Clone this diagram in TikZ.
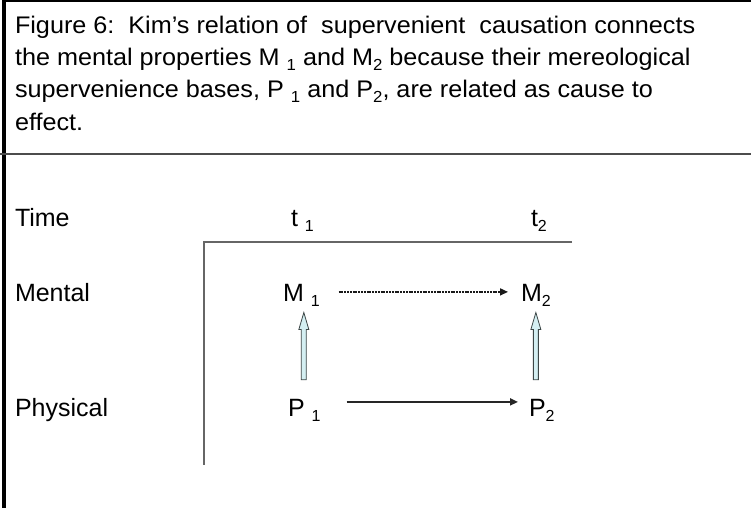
\documentclass[tikz,border=0pt]{standalone}
\usepackage{fontspec}
\setmainfont{Liberation Sans}
\newfontfamily\capfont[FakeStretch=1.05]{Liberation Sans}
\usetikzlibrary{calc,arrows.meta}
\definecolor{arrowfill}{HTML}{D4EFF2}
\definecolor{arrowedge}{HTML}{3C4646}
\definecolor{axisgray}{HTML}{666666}
\newcommand\lsub[1]{\raisebox{-0.2em}{\fontsize{16}{16}\selectfont #1}}
\newcommand\hollowup[2]{%
  \draw[upstyle] ($(#1)+(-2.5,0)$) -- ($(#2)+(-2.5,17)$) -- ($(#2)+(-5,17)$) -- (#2)
    -- ($(#2)+(5,17)$) -- ($(#2)+(2.5,17)$) -- ($(#1)+(2.5,0)$) -- cycle;}
\begin{document}
\begin{tikzpicture}[x=1pt,y=-1pt,
  captext/.style={anchor=base west, inner sep=0pt, outer sep=0pt, font=\capfont\fontsize{24}{32}\selectfont},
  lbl/.style={anchor=base west, inner sep=0pt, outer sep=0pt, font=\fontsize{25}{30}\selectfont},
  axisline/.style={draw=axisgray, line width=1.2pt},
  dotarrow/.style={draw=black!90, line width=1.6pt, dash pattern=on 2pt off 0.8pt, -{Triangle[length=8pt,width=7pt]}},
  solidarrow/.style={draw=black!85, line width=1.8pt, -{Triangle[length=8pt,width=7pt]}},
  upstyle/.style={draw=arrowedge, fill=arrowfill, line width=0.8pt, line join=miter}]
\useasboundingbox (0,0) rectangle (751,508);
% frame
\fill[black] (2,0) rectangle (6,508);
\fill[black] (2,0) rectangle (751,2.5);
\draw[line width=2pt, black!70] (0,154) -- (751,154);
% caption
\node[captext] (c1) at (15,34) {Figure 6:\ \ Kim’s relation of\ \ supervenient\ \ causation connects};
\node[captext] (c2) at (15,66) {the mental properties M \lsub{1} and M\lsub{2} because their mereological};
\node[captext] (c3) at (15,98) {supervenience bases, P \lsub{1} and P\lsub{2}, are related as cause to};
\node[captext] (c4) at (15,130) {effect.};
% row labels
\node[lbl] (time) at (15,226) {Time};
\node[lbl] (mental) at (15,301) {Mental};
\node[lbl] (phys) at (15,416) {Physical};
% column labels
\node[lbl] (t1) at (291,226) {t \lsub{1}};
\node[lbl] (t2) at (531,226) {t\lsub{2}};
% axes
\coordinate (corner) at (204,242);
\coordinate (axend) at (572,242);
\coordinate (axbot) at (204,465);
\draw[axisline] (axend) -- (corner) -- (axbot);
% property nodes
\node[lbl] (M1) at (283,301) {M \lsub{1}};
\node[lbl] (M2) at (521,301) {M\lsub{2}};
\node[lbl] (P1) at (288,416) {P \lsub{1}};
\node[lbl] (P2) at (529,416) {P\lsub{2}};
% causal arrows
\draw[dotarrow] ([xshift=19pt,yshift=3pt]M1.east) -- ([xshift=-13pt,yshift=3pt]M2.west);
\draw[solidarrow] ([xshift=26pt,yshift=8pt]P1.east) -- ([xshift=-11pt,yshift=8pt]P2.west);
% supervenience arrows
\coordinate (a1t) at ($(M1.south)+(2.5,6.5)$);
\coordinate (a1b) at ($(M1.south |- P1.north)+(2.5,-19)$);
\coordinate (a2t) at ($(M2.south)+(0,6.5)$);
\coordinate (a2b) at ($(M2.south |- P2.north)+(0,-19)$);
\hollowup{a1b}{a1t}
\hollowup{a2b}{a2t}
\end{tikzpicture}
\end{document}
